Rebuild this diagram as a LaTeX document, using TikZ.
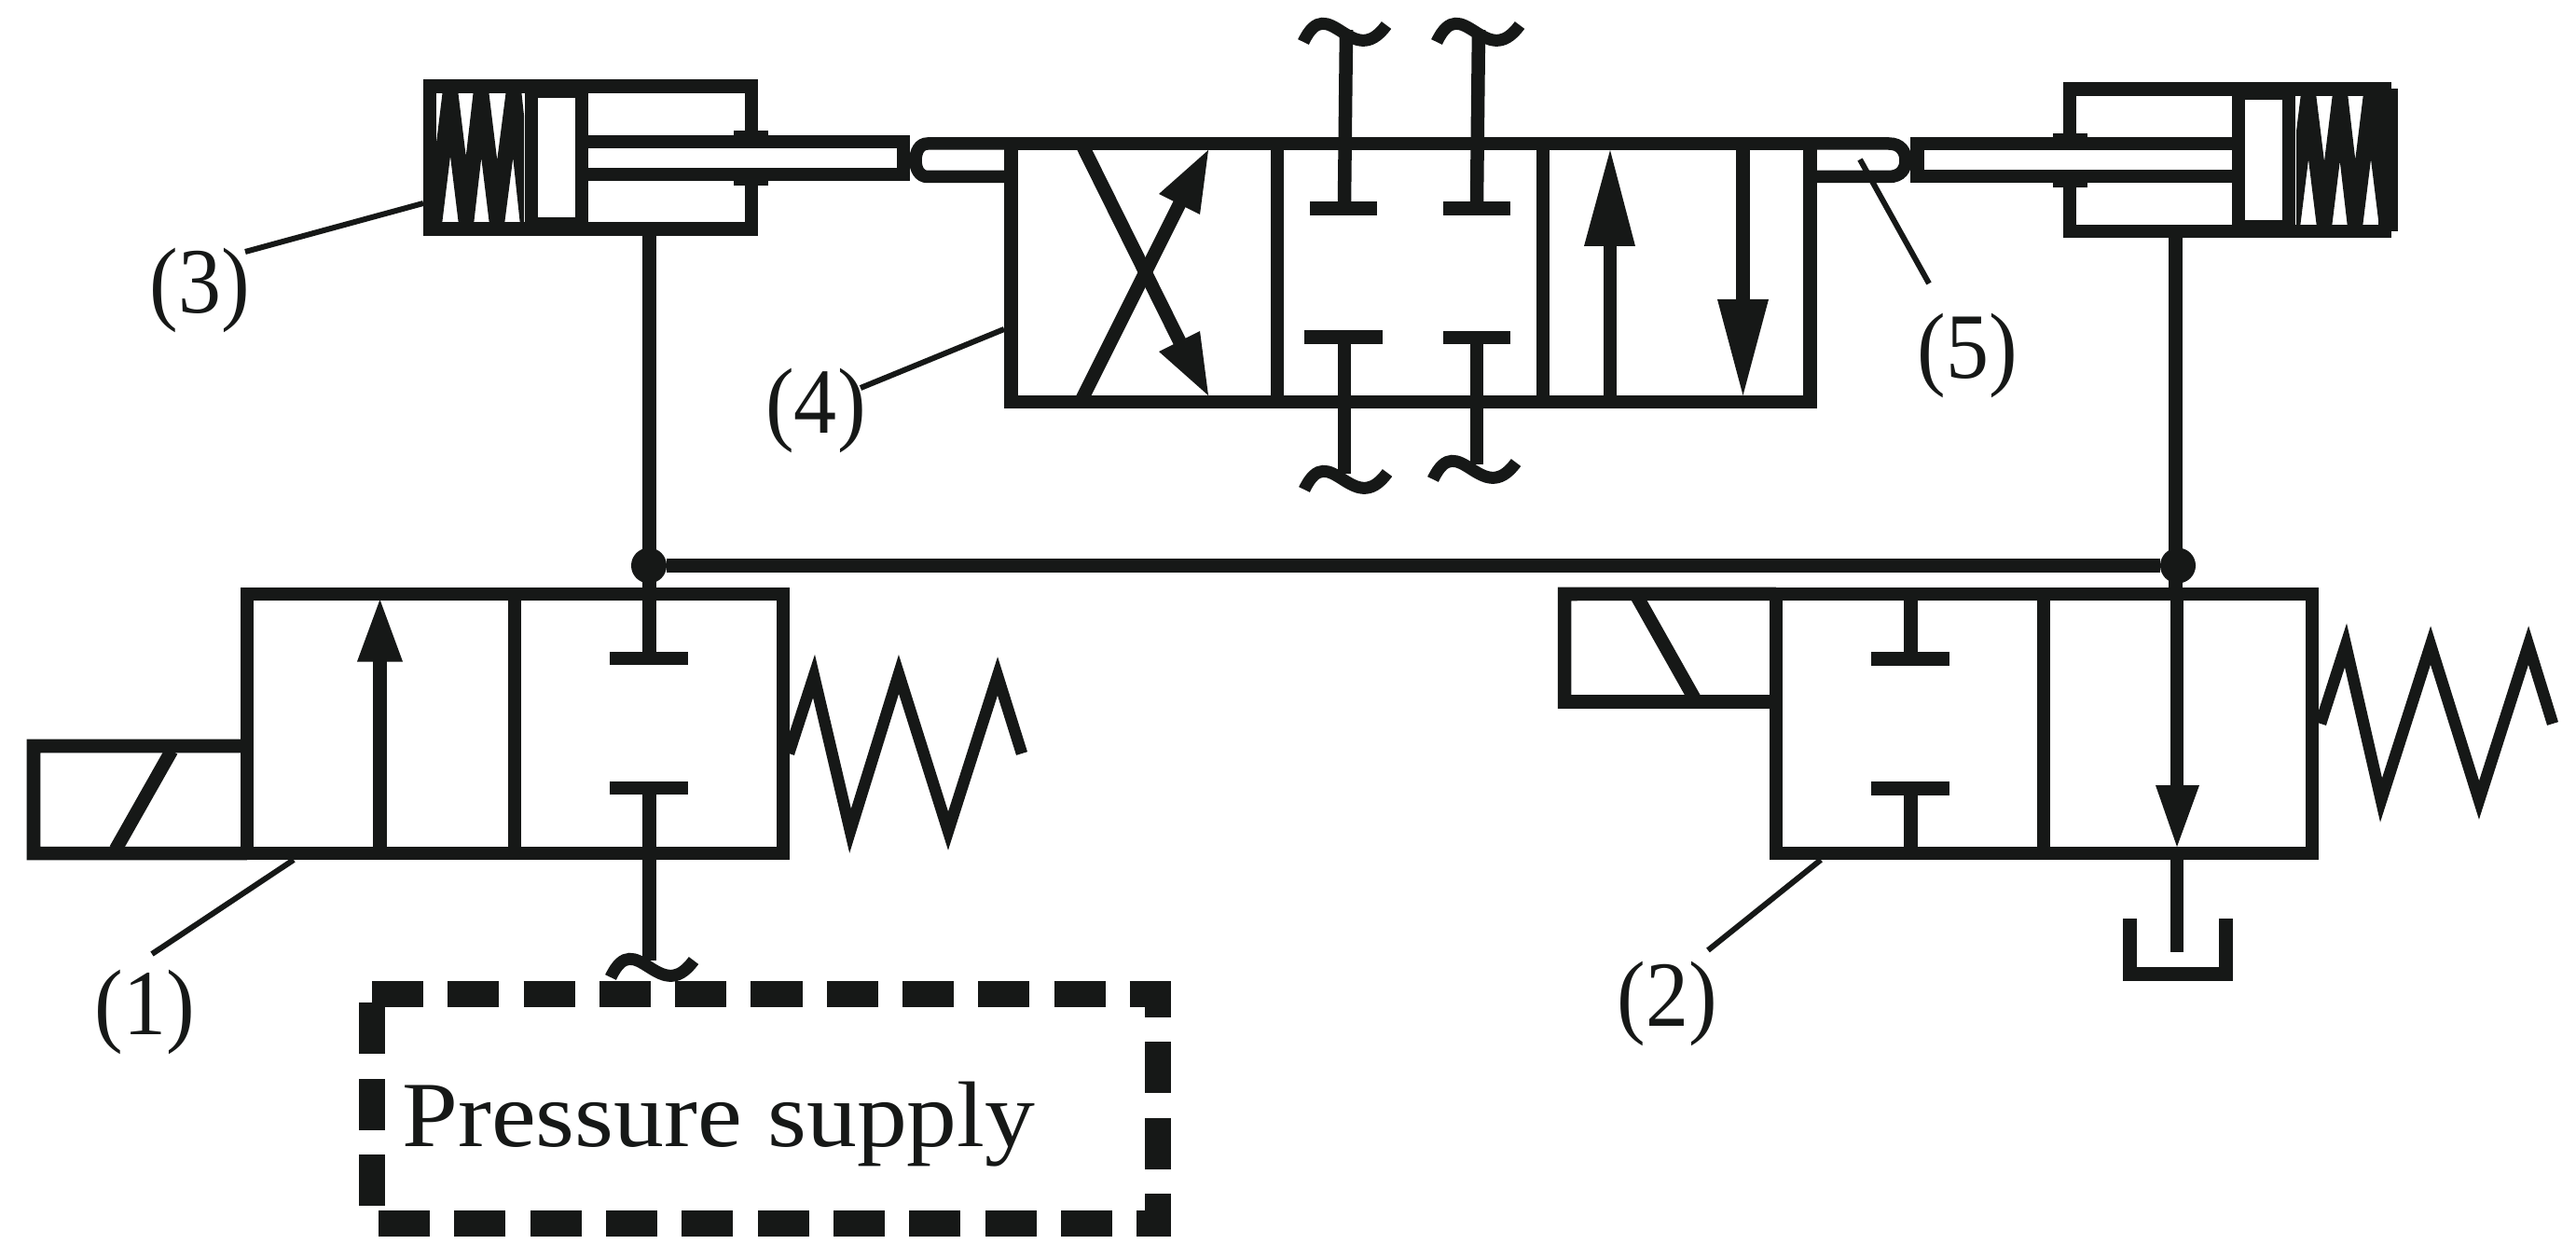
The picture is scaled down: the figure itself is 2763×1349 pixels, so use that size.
\documentclass[tikz,border=0pt]{standalone}
\usepackage{graphicx}
\usepackage{fontspec}
\setmainfont{Liberation Serif}
\definecolor{ink}{RGB}{22,24,23}
\newcommand{\fsz}{\fontsize{28.45}{30}\selectfont}
\newcommand{\lbl}[1]{\scalebox{0.92}[1]{#1}}
\tikzset{
  x=0.01cm, y=-0.01cm,
  wire/.style={draw=ink, line width=0.145cm, line cap=butt, line join=miter},
  boxst/.style={draw=ink, line width=0.145cm, fill=none, inner sep=0pt, outer sep=0pt, rectangle},
  thinline/.style={draw=ink, line width=0.06cm},
  wave/.style={draw=ink, line width=0.13cm},
  springline/.style={draw=ink, line width=0.125cm, miter limit=30, line join=miter},
  coil/.style={draw=ink, line width=0.166cm, miter limit=30, line join=miter},
  head/.style={fill=ink, draw=none},
  dot/.style={circle, fill=ink, draw=none, inner sep=0pt, outer sep=0pt, minimum size=0.38cm},
  lab/.style={text=ink, inner sep=0pt, font=\fsz},
  dashbox/.style={draw=ink, line width=0.275cm, dash pattern=on 0.55cm off 0.2625cm, line join=miter}
}
\newcommand{\wavelet}[2]{\draw[wave,shift={(#1,#2)}] (0,0) .. controls (27,-57) and (52,33) .. (89,-18);}
\begin{document}
\begin{tikzpicture}
\useasboundingbox (0,0) rectangle (2763,1349);
\fill[white] (0,0) rectangle (2763,1349);

% ----- named bodies
\node[boxst, minimum width=3.45cm, minimum height=1.53cm] (cylL) at (633.5,169) {};
\node[boxst, minimum width=3.38cm, minimum height=1.525cm] (cylR) at (2389,171.75) {};
\node[boxst, minimum width=8.565cm, minimum height=2.77cm] (valveC) at (1512.75,292.5) {};
\node[boxst, minimum width=5.75cm, minimum height=2.78cm] (valveA) at (552.5,776) {};
\node[boxst, minimum width=5.75cm, minimum height=2.78cm] (valveB) at (2192.5,776) {};
\node[dot] (J1) at (696,606.5) {};
\node[dot] (J2) at (2336,606.5) {};
\coordinate (pA) at (696.5,606.5);
\coordinate (pB) at (2333.5,606.5);
\coordinate (solA) at (265,800);
\coordinate (tankIn) at (2335,915);

% ----- left cylinder
\begin{scope}
  \clip (468,99) rectangle (562,238);
  \draw[coil] (466,238) -- (483,99) -- (500,238) -- (516,99) -- (533,238) -- (551,99) -- (566,238);
\end{scope}
\fill[white] (631,159) rectangle (961,180);
\draw[wire] (570,98) rectangle (624,240);
\draw[wire] (624,152) -- (969,152) -- (969,187) -- (624,187);
\fill[ink] (787,140) rectangle (824,146);
\fill[ink] (787,193) rectangle (824,199);

% ----- right cylinder
\fill[ink] (2557,95) rectangle (2572,248);
\begin{scope}
  \clip (2463,103) rectangle (2558,241);
  \draw[coil] (2459,241) -- (2476,103) -- (2493,241) -- (2510,103) -- (2526,241) -- (2543,103) -- (2560,241);
\end{scope}
\fill[white] (2202,161) rectangle (2394,182);
\draw[wire] (2401,100) rectangle (2455,243);
\draw[wire] (2401,154) -- (2056.5,154) -- (2056.5,189) -- (2401,189);
\fill[ink] (2202,143) rectangle (2239,148);
\fill[ink] (2202,195) rectangle (2239,201);

% ----- rollers between cylinders and centre valve
\draw[draw=ink, line width=0.135cm] (valveC.north west) -- (995,154) .. controls (986,154) and (982,163) .. (982,172) .. controls (982,181) and (986,189.5) .. (995,189.5) -- (1084.5,189.5);
\draw[draw=ink, line width=0.135cm] (valveC.north east) -- (2026,154) .. controls (2039,154) and (2044,163) .. (2044,172) .. controls (2044,181) and (2039,189.5) .. (2026,189.5) -- (1941,189.5);

% ----- centre valve cells
\draw[wire] (1370,154) -- (1370,431);
\draw[wire] (1655,154) -- (1655,431);
\draw[wire] (1160,154) -- (1282,400);
\draw[wire] (1159,431) -- (1282,185);
\fill[head] (1296,161) -- (1243,208) -- (1287,230) -- cycle;
\fill[head] (1296,424) -- (1243,377) -- (1287,355) -- cycle;
% T ports, centre valve
\draw[wire] (1444,32) -- (1442,216);
\draw[wire] (1586,32) -- (1584,216);
\fill[ink] (1405,216) rectangle (1477,231);
\fill[ink] (1548,216) rectangle (1620,231);
\fill[ink] (1399,354) rectangle (1483,369);
\fill[ink] (1548,355) rectangle (1620,369);
\draw[wire] (1442,369) -- (1442,508);
\draw[wire] (1584,369) -- (1584,498);
\wavelet{1398}{45}
\wavelet{1541}{45}
\wavelet{1399}{525}
\wavelet{1537}{514}
% parallel arrows
\draw[wire] (1727,431) -- (1727,260);
\fill[head] (1727,161) -- (1699,264) -- (1754,264) -- cycle;
\draw[wire] (1869.5,154) -- (1869.5,325);
\fill[head] (1869.5,424) -- (1842,321) -- (1897,321) -- cycle;

% ----- pipes
\draw[wire] (cylL.south -| pA) -- (pA);
\draw[wire] (cylR.south -| pB) -- (pB);
\draw[wire] (J1) -- (J2);
\draw[wire] (pA) -- (696.5,699);
\draw[wire] (pB) -- (2333.5,640);

% ----- valve (1)
\draw[wire] (solA) -- (36,800) -- (36,915) -- (valveA.south west);
\draw[wire] (124,911) -- (184,805);
\draw[wire] (552,637) -- (552,915);
\draw[wire] (407.5,915) -- (407.5,705);
\fill[head] (407.5,643) -- (383,709.5) -- (432,709.5) -- cycle;
\fill[ink] (654,699) rectangle (738,713);
\fill[ink] (654,838) rectangle (738,852);
\draw[wire] (696.5,852) -- (696.5,1030);
\wavelet{655}{1048}
\draw[springline] (846,808) -- (873,725) -- (912,891) -- (964,723) -- (1017,891) -- (1070,725) -- (1096,808);

% ----- valve (2)
\draw[wire] (valveB.north west) -- (1678,637) -- (1678,752.5) -- (1905,752.5);
\draw[wire] (1756,640) -- (1818,750);
\draw[wire] (2192,637) -- (2192,915);
\draw[wire] (2049.5,637) -- (2049.5,699);
\draw[wire] (2049.5,853) -- (2049.5,915);
\fill[ink] (2007,699) rectangle (2091,714);
\fill[ink] (2007,838) rectangle (2091,853);
\draw[wire] (2335,637) -- (2335,845);
\fill[head] (2335,908) -- (2312,842) -- (2359,842) -- cycle;
\draw[wire] (tankIn) -- (2335,1021);
\draw[draw=ink, line width=0.15cm] (2284.5,985) -- (2284.5,1044) -- (2387.5,1044) -- (2387.5,985);
\draw[springline] (2489,776) -- (2516,692) -- (2554,858) -- (2607,692) -- (2659,858) -- (2712,692) -- (2738,776);

% ----- pressure supply
\draw[dashbox] (399,1066) -- (1242,1066) -- (1242,1312) -- (399,1312) -- cycle;
\node[lab, anchor=base] (supply) at (771,1229) {\scalebox{1.077}[1]{Pressure supply}};

% ----- labels and leaders
\node[lab] (l1) at (155.5,1085) {\lbl{(1)}};
\node[lab] (l2) at (1788,1076) {\lbl{(2)}};
\node[lab] (l3) at (214.5,311) {\lbl{(3)}};
\node[lab] (l4) at (875,440.5) {\lbl{(4)}};
\node[lab] (l5) at (2110,381) {\lbl{(5)}};
\coordinate (t1) at (163,1023);
\coordinate (t2) at (1832,1019);
\coordinate (t3) at (263,270);
\coordinate (t4) at (923,416);
\coordinate (t5) at (2069,304);
\draw[thinline] (t1) -- (315,922);
\draw[thinline] (t2) -- (1953,922);
\draw[thinline] (t3) -- (454,218);
\draw[thinline] (t4) -- (1077,353);
\draw[thinline] (t5) -- (1995,171);
\end{tikzpicture}
\end{document}
